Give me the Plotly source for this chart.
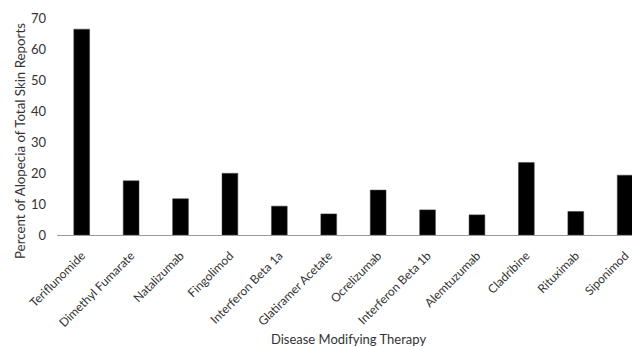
import plotly.graph_objects as go

therapies = ["Teriflunomide", "Dimethyl Fumarate", "Natalizumab", "Fingolimod",
             "Interferon Beta 1a", "Glatiramer Acetate", "Ocrelizumab",
             "Interferon Beta 1b", "Alemtuzumab", "Cladribine", "Rituximab", "Siponimod"]
alopecia_pct = [66.4, 17.5, 11.7, 19.9, 9.3, 6.8, 14.5, 8.1, 6.5, 23.4, 7.6, 19.3]
y_ticks = [0, 10, 20, 30, 40, 50, 60, 70]

fig = go.Figure(go.Bar(
    x=list(range(len(therapies))), y=alopecia_pct,
    marker=dict(color="black", line=dict(color="#444", width=0.5)),
    width=0.32,
))

font = "Lato, Open Sans, sans-serif"
fig.update_layout(
    width=632, height=339,
    margin=dict(l=49, r=0, t=10, b=112, autoexpand=False),
    paper_bgcolor="white", plot_bgcolor="white",
    showlegend=False,
    font=dict(family=font, color="#333", size=12),
    xaxis=dict(
        range=[-0.5, 11.3], tickmode="array",
        tickvals=list(range(len(therapies))), ticktext=therapies,
        tickangle=-45, showline=True, linecolor="#999", linewidth=1,
        ticks="", showgrid=False, zeroline=False, automargin=False,
        ticklabelstandoff=8,
        title=dict(text="Disease Modifying Therapy", font=dict(size=13), standoff=12),
    ),
    yaxis=dict(
        range=[0, 70], tickvals=y_ticks, showgrid=False, zeroline=False,
        showline=False, ticks="", ticklabelstandoff=10, automargin=False,
        tickfont=dict(size=13),
    ),
    annotations=[dict(
        text="Percent of Alopecia of Total Skin Reports",
        textangle=-90, xref="paper", yref="paper",
        x=-0.0635, y=0.433, xanchor="center", yanchor="middle",
        showarrow=False, font=dict(size=13.3, color="#333"),
    )],
)

fig.write_html("out.html")
